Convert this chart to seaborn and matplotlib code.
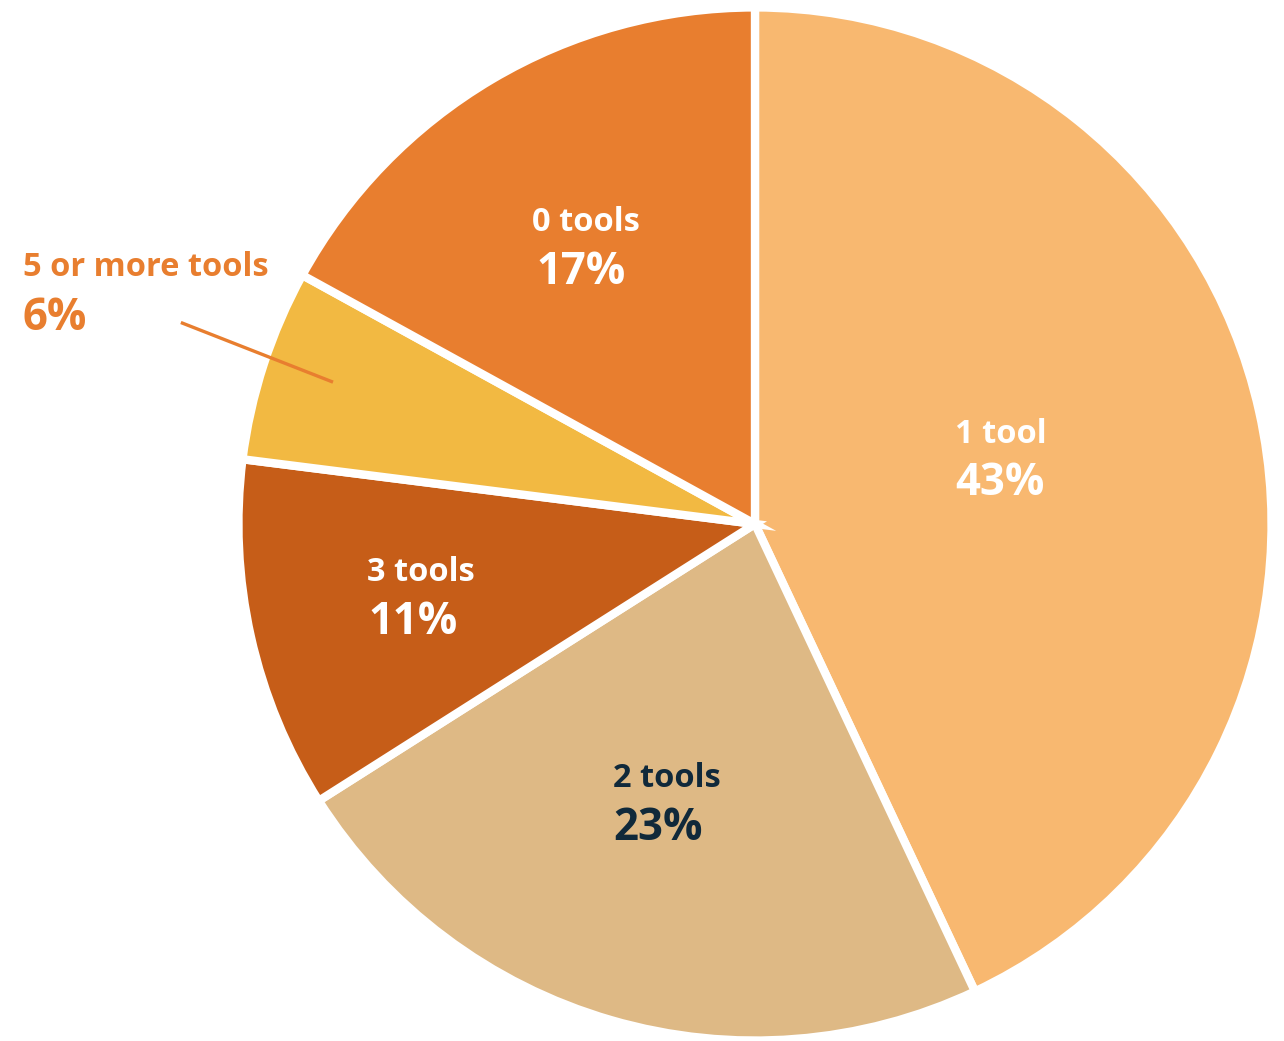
import matplotlib
matplotlib.use("Agg")
import matplotlib.pyplot as plt
import seaborn as sns

sns.set_theme(style="white")

# Share of respondents by number of tools used
categories = ["1 tool", "2 tools", "3 tools", "5 or more tools", "0 tools"]
shares = [43, 23, 11, 6, 17]
slice_colors = ["#F8B870", "#DEB985", "#C65D18", "#F2B942", "#E87E2F"]
text_colors = ["white", "#10293A", "white", "#E87E2F", "white"]

# Label anchors (left edge of each text block, in pie units)
label_xy = [(0.390, 0.175), (-0.276, -0.495), (-0.755, -0.095),
            (-1.425, 0.499), (-0.433, 0.586)]
pct_xy = [(0.390, 0.078), (-0.276, -0.592), (-0.752, -0.192),
          (-1.425, 0.400), (-0.425, 0.489)]

fig = plt.figure(figsize=(12.84, 10.41), dpi=100)
ax = fig.add_axes([0.1877, 0.0029, 0.8006, 0.9875])

ax.pie(shares, colors=slice_colors, startangle=90, counterclock=False,
       radius=1.005, wedgeprops=dict(edgecolor="white", linewidth=6))
ax.set_xlim(-1, 1)
ax.set_ylim(-1, 1)
ax.set_aspect("equal")
ax.axis("off")

for name, val, col, (lx, ly), (px, py) in zip(categories, shares, text_colors,
                                             label_xy, pct_xy):
    ax.text(lx, ly, name, ha="left", va="center", color=col,
            fontsize=23.5, fontweight="bold", family="Open Sans",
            clip_on=False)
    ax.text(px, py, f"{val}%", ha="left", va="center", color=col,
            fontsize=31.5, fontweight="bold", family="Open Sans", clip_on=False)

# Leader line for the small slice
ax.plot([-1.117, -0.821], [0.392, 0.276], color="#E87E2F", lw=2.4,
        clip_on=False, solid_capstyle="butt")

fig.savefig("out.png", dpi=100)
